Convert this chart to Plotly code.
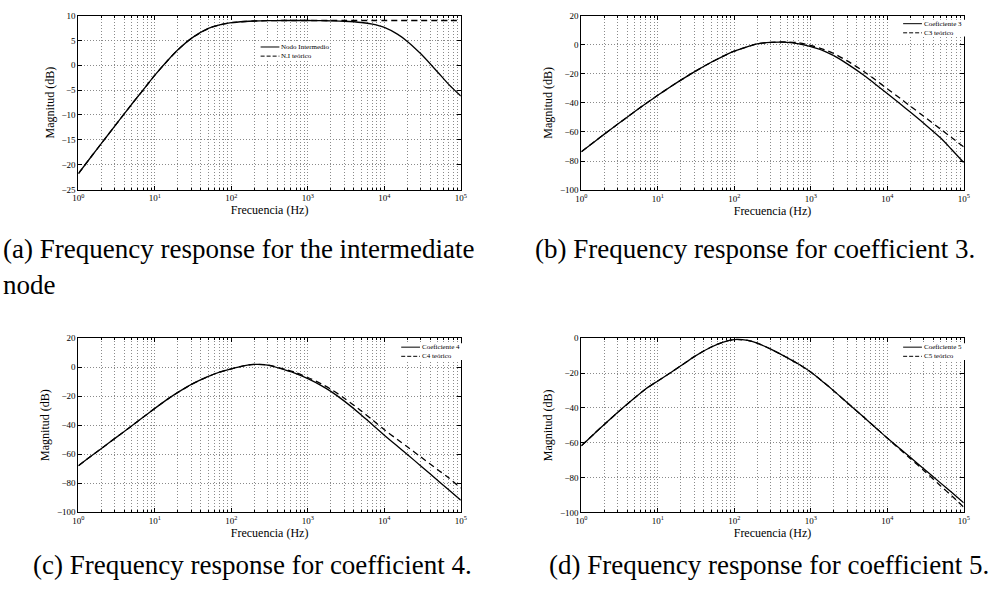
import plotly.graph_objects as go

# Frequency axis samples (Hz), shared by every curve
freq = [1, 1.5, 2, 3, 5, 7, 10, 15, 20, 30, 50, 70, 100, 150, 200, 300, 500, 700,
        1e3, 1.5e3, 2e3, 3e3, 5e3, 7e3, 1e4, 1.5e4, 2e4, 3e4, 5e4, 7e4, 1e5]

# (a) intermediate node: measured vs theoretical (dB)
nodo_medido = [-21.8, -18.2, -15.7, -12.2, -7.8, -5.0, -2.0, 1.1, 3.1, 5.4, 7.4, 8.1, 8.55,
               8.8, 8.9, 8.97, 9.0, 9.0, 9.0, 8.97, 8.93, 8.85, 8.6, 8.25, 7.6, 6.2, 4.8,
               2.3, -1.4, -3.9, -6.2]
nodo_teorico = [-21.8, -18.2, -15.7, -12.2, -7.8, -5.0, -2.0, 1.1, 3.1, 5.4, 7.4, 8.1, 8.55,
                8.8, 8.9, 8.97, 9.0, 9.0, 9.0, 9.0, 9.0, 9.0, 9.0, 9.0, 9.0, 9.0, 9.0,
                9.0, 9.0, 9.0, 9.0]

# (b) coefficient 3
c3_medido = [-73.6, -66.5, -61.5, -54.6, -46.0, -40.5, -34.8, -28.6, -24.4, -18.7, -12.1,
             -8.2, -4.5, -1.4, 0.5, 1.6, 1.6, 0.5, -1.4, -4.4, -7.6, -13.2, -21.2, -27.2,
             -33.6, -41.0, -46.3, -54.0, -64.2, -72.2, -81.0]
c3_teorico = [-73.6, -66.5, -61.5, -54.6, -46.0, -40.5, -34.8, -28.6, -24.4, -18.7, -12.1,
              -8.2, -4.5, -1.4, 0.5, 1.6, 1.8, 1.2, -0.6, -3.4, -6.1, -11.2, -18.6, -24.2,
              -30.3, -37.2, -42.2, -49.2, -58.1, -64.0, -70.3]

# (c) coefficient 4
c4_medido = [-68.0, -61.0, -56.2, -49.2, -40.5, -34.6, -28.5, -21.8, -17.5, -12.0, -6.5,
             -3.5, -1.2, 1.0, 1.8, 1.3, -2.0, -4.5, -8.0, -12.8, -16.8, -23.5, -33.0,
             -39.8, -47.0, -54.8, -60.3, -68.2, -78.2, -84.8, -91.8]
c4_teorico = [-68.0, -61.0, -56.2, -49.2, -40.5, -34.6, -28.5, -21.8, -17.5, -12.0, -6.5,
              -3.5, -1.2, 1.0, 1.8, 1.4, -1.6, -3.9, -7.2, -11.6, -15.3, -21.5, -30.3,
              -36.5, -43.2, -50.2, -55.0, -62.0, -70.8, -76.5, -83.5]

# (d) coefficient 5
c5_medido = [-61.8, -54.5, -49.5, -42.5, -34.2, -29.0, -24.5, -19.5, -15.8, -10.5, -5.0,
             -2.3, -0.7, -1.2, -2.8, -6.2, -11.3, -14.9, -19.4, -25.6, -30.2, -37.0,
             -45.5, -51.2, -57.3, -63.8, -68.4, -74.9, -83.2, -88.6, -94.5]
c5_teorico = [-61.8, -54.5, -49.5, -42.5, -34.2, -29.0, -24.5, -19.5, -15.8, -10.5, -5.0,
              -2.3, -0.7, -1.2, -2.8, -6.2, -11.3, -14.9, -19.4, -25.6, -30.2, -37.0,
              -45.5, -51.2, -57.3, -64.2, -69.0, -75.9, -84.8, -90.6, -97.0]

x_ticks = [1, 10, 100, 1e3, 1e4, 1e5]
x_ticktext = ["10<sup>0</sup>", "10<sup>1</sup>", "10<sup>2</sup>",
              "10<sup>3</sup>", "10<sup>4</sup>", "10<sup>5</sup>"]
# minor positions 2..9 within each decade
x_minor = [m * 10 ** d for d in range(5) for m in range(2, 10)]

panels = [
    dict(measured=nodo_medido, theory=nodo_teorico, names=("Nodo Intermedio", "N.I teórico"),
         xdom=(73.3, 460.3), ydom=(10.7, 187.7), yrange=(-25, 10), ydtick=5,
         leg=(257.7, 42.7)),
    dict(measured=c3_medido, theory=c3_teorico, names=("Coeficiente 3", "C3 teórico"),
         xdom=(582.3, 969.3), ydom=(10.7, 188.3), yrange=(-100, 20), ydtick=20,
         leg=(908.0, 19.0)),
    dict(measured=c4_medido, theory=c4_teorico, names=("Coeficiente 4", "C4 teórico"),
         xdom=(73.3, 460.3), ydom=(338.7, 515.7), yrange=(-100, 20), ydtick=20,
         leg=(400.0, 348.0)),
    dict(measured=c5_medido, theory=c5_teorico, names=("Coeficiente 5", "C5 teórico"),
         xdom=(582.3, 969.3), ydom=(339.0, 516.0), yrange=(-100, 0), ydtick=20,
         leg=(908.0, 348.0)),
]

W, H = 1003, 597
SERIF = "Liberation Serif, Times New Roman, serif"
GRID = "#8a8a8a"
GRIDDASH = "1px,2px"

fig = go.Figure()
layout = dict(
    width=W, height=H, margin=dict(l=0, r=0, t=0, b=0),
    paper_bgcolor="white", plot_bgcolor="white", showlegend=False,
    font=dict(family=SERIF, color="black"),
)
shapes, annotations = [], []

for i, p in enumerate(panels, start=1):
    xa = "x" if i == 1 else f"x{i}"
    ya = "y" if i == 1 else f"y{i}"
    fig.add_trace(go.Scatter(x=freq, y=p["measured"], mode="lines", xaxis=xa, yaxis=ya,
                             name=p["names"][0],
                             line=dict(color="black", width=1.3, shape="spline", smoothing=0.8)))
    fig.add_trace(go.Scatter(x=freq, y=p["theory"], mode="lines", xaxis=xa, yaxis=ya,
                             name=p["names"][1],
                             line=dict(color="black", width=1.3, dash="6px,4px",
                                       shape="spline", smoothing=0.8)))

    x0, x1 = p["xdom"]
    y0, y1 = p["ydom"]
    xkey = "xaxis" if i == 1 else f"xaxis{i}"
    ykey = "yaxis" if i == 1 else f"yaxis{i}"
    layout[xkey] = dict(
        type="log", range=[0, 5], domain=[x0 / W, x1 / W], anchor=ya,
        tickmode="array", tickvals=x_ticks, ticktext=x_ticktext, tickfont=dict(size=9),
        ticks="inside", ticklen=4, tickcolor="black", mirror="allticks",
        showline=True, linecolor="black", linewidth=1,
        showgrid=True, gridcolor=GRID, griddash=GRIDDASH, gridwidth=1,
        minor=dict(tickmode="array", tickvals=x_minor, ticks="inside", ticklen=2,
                   tickcolor="black", showgrid=True, gridcolor=GRID,
                   griddash=GRIDDASH, gridwidth=1),
        zeroline=False, fixedrange=True,
        title=dict(text="Frecuencia (Hz)", font=dict(size=12), standoff=2),
    )
    ylo, yhi = p["yrange"]
    layout[ykey] = dict(
        range=[ylo, yhi], domain=[1 - y1 / H, 1 - y0 / H], anchor=xa,
        dtick=p["ydtick"], tick0=0, tickfont=dict(size=9),
        ticks="inside", ticklen=4, tickcolor="black", mirror="allticks",
        showline=True, linecolor="black", linewidth=1,
        showgrid=True, gridcolor=GRID, griddash=GRIDDASH, gridwidth=1,
        zeroline=False, fixedrange=True,
        title=dict(text="Magnitud (dB)", font=dict(size=12), standoff=4),
    )

    # legend block: white box with two line samples and labels
    lx, ly = p["leg"]
    shapes.append(dict(type="rect", xref="paper", yref="paper",
                       x0=(lx - 2) / W, x1=(lx + 70) / W,
                       y0=1 - (ly + 13) / H, y1=1 - (ly - 4) / H,
                       fillcolor="white", line=dict(width=0), layer="above"))
    for k, dash in enumerate(("solid", "4px,2px")):
        yy = 1 - (ly + 9.3 * k) / H
        shapes.append(dict(type="line", xref="paper", yref="paper",
                           x0=lx / W, x1=(lx + 19) / W, y0=yy, y1=yy,
                           line=dict(color="black", width=1, dash=dash), layer="above"))
        annotations.append(dict(text=p["names"][k], xref="paper", yref="paper",
                                x=(lx + 19.0) / W, y=yy, xanchor="left", yanchor="middle",
                                showarrow=False, font=dict(size=7, family=SERIF)))

# sub-figure captions
CAP = 27
captions = [
    ("(a) Frequency response for the intermediate", -5, 248, "left"),
    ("node", -5, 285, "left"),
    ("(b) Frequency response for coefficient 3.", 758, 248, "center"),
    ("(c) Frequency response for coefficient 4.", 249, 570, "center"),
    ("(d) Frequency response for coefficient 5.", 772, 570, "center"),
]
for text, cx, cy, anchor in captions:
    annotations.append(dict(text=text, xref="paper", yref="paper", x=cx / W, y=1 - cy / H,
                            xanchor=anchor, yanchor="middle", showarrow=False,
                            font=dict(size=CAP, family=SERIF, color="black")))

layout["shapes"] = shapes
layout["annotations"] = annotations
fig.update_layout(**layout)
fig.write_html("out.html")
